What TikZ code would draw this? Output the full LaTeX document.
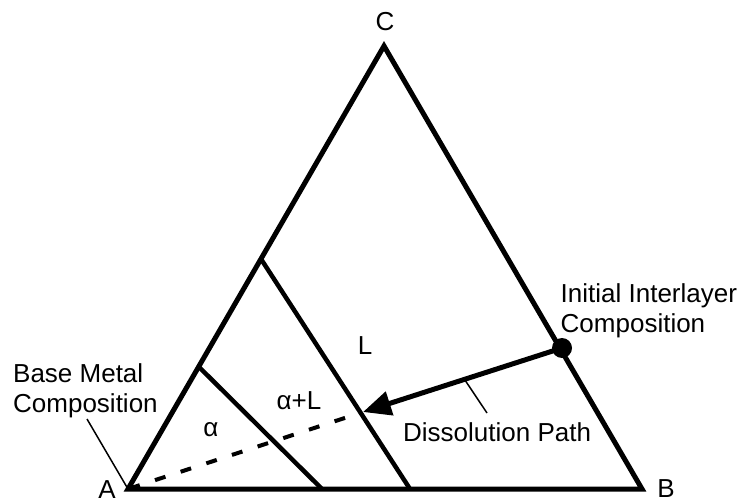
\documentclass[tikz,border=0pt]{standalone}
\usepackage{fontspec}
\setmainfont{Liberation Sans}
\usetikzlibrary{arrows.meta,calc}

\begin{document}
\begin{tikzpicture}[x=1pt,y=-1pt,font=\fontsize{26}{30}\selectfont,
  side/.style={line width=5pt,line join=miter},
  phase/.style={line width=4.5pt},
  path/.style={line width=5pt,-{Triangle[length=28pt,width=24pt]}},
  leader/.style={line width=1.5pt},
  lbl/.style={inner sep=0pt}]
\useasboundingbox (0,0) rectangle (744,503);
% corners
\coordinate (A) at (128,489);
\coordinate (B) at (642,489);
\coordinate (C) at (384,46);
\draw[side] (A)--(B)--(C)--cycle;
% phase boundaries
\coordinate (a1) at (199,367);
\coordinate (b1) at (322,489);
\coordinate (a2) at (261,259);
\coordinate (b2) at (410,489);
\draw[phase] (a1)--(b1) (a2)--(b2);
% interlayer point and dissolution path
\node[circle,fill,minimum size=20pt,inner sep=0pt] (P) at (562,348) {};
\coordinate (Q) at (363,412);
\draw[line width=4pt,dash pattern=on 11pt off 16pt,dash phase=25.6pt,shorten >=4pt] (A)--(Q);
\draw[path] (P.center)--(Q);
% leaders
\coordinate (bm) at (87,419);
\coordinate (dp) at ($(P.center)!0.49!(Q)$);
\coordinate (dq) at (487,413);
\draw[leader] (bm)--(A) (dp)--(dq);
% labels
\node[lbl] (lC) at (385,22) {C};
\node[lbl] (lA) at (107,489.5) {A};
\node[lbl] (lB) at (666,488.5) {B};
\node[lbl] (lL) at (365,346) {L};
\node[lbl] (lAL) at (299,401) {α+L};
\node[lbl] (lal) at (211,430) {α};
\node[lbl,anchor=west] (ldp) at (403,432) {Dissolution Path};
\node[lbl,anchor=north west,align=left] (lbm) at (13,363.5) {Base Metal\\Composition};
\node[lbl,anchor=north west,align=left] (lil) at (560.5,283) {Initial Interlayer\\Composition};
\end{tikzpicture}
\end{document}
